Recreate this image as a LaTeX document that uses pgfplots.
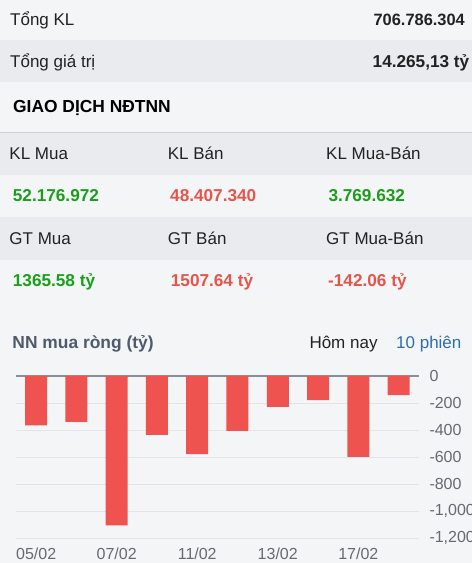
\documentclass[border=0pt]{standalone}
\usepackage{pgfplots}
\pgfplotsset{compat=1.18}
\usepackage{fontspec}
\setmainfont{Liberation Sans}
\definecolor{pagebg}{HTML}{F4F5F7}
\definecolor{bandbg}{HTML}{E9EBEE}
\definecolor{rule}{HTML}{CDD1D7}
\definecolor{txt}{HTML}{222222}
\definecolor{up}{HTML}{18A018}
\definecolor{down}{HTML}{E5554A}
\definecolor{barred}{HTML}{EF5350}
\definecolor{titlec}{HTML}{4F5A6B}
\definecolor{linkc}{HTML}{2F6DB5}
\definecolor{tickc}{HTML}{666A70}
\definecolor{gridc}{HTML}{E2E4E8}
\definecolor{zeroc}{HTML}{8A8F97}
\newcommand\fs{\fontsize{17bp}{20bp}\selectfont}
\newcommand\fb{\fontsize{17.2bp}{20bp}\selectfont\bfseries}
\newcommand\ft{\fontsize{16bp}{19bp}\selectfont}

% net foreign buying, last 10 sessions (ty dong)
\pgfplotstableread{
id  y
0   -365
1   -340
2   -1105
3   -435
4   -578
5   -405
6   -228
7   -178
8   -598
9   -142
}\netbuy

\begin{document}
\begin{tikzpicture}
\begin{scope}[x=1bp,y=-1bp]
  \fill[pagebg] (0,0) rectangle (472,563);
  \fill[bandbg] (0,40) rectangle (472,82);
  \fill[bandbg] (0,133) rectangle (472,174.5);
  \fill[bandbg] (0,217) rectangle (472,260);
  \draw[rule, line width=1bp] (0,132) -- (472,132);

  \begin{scope}[every node/.style={inner sep=0pt, text=txt, font=\fs}]
    \node[anchor=base west] at (10,25) {Tổng KL};
    \node[anchor=base east, font=\fontsize{16.4bp}{19bp}\selectfont\bfseries] at (465,25) {706.786.304};
    \node[anchor=base west] at (10,67) {Tổng giá trị};
    \node[anchor=base east, font=\fb] at (469.5,67) {14.265,13 tỷ};
    \node[anchor=base west, font=\fontsize{17.4bp}{20bp}\selectfont\bfseries, text=black] at (13,112.7) {GIAO DỊCH NĐTNN};

    \node[anchor=base west] at (9.3,159.3) {KL Mua};
    \node[anchor=base west] at (167.7,159.3) {KL Bán};
    \node[anchor=base west] at (326,159.3) {KL Mua-Bán};
    \node[anchor=base west, font=\fb, text=up] at (12.7,201.7) {52.176.972};
    \node[anchor=base west, font=\fb, text=down] at (170,201.7) {48.407.340};
    \node[anchor=base west, font=\fb, text=up] at (328.3,201.7) {3.769.632};

    \node[anchor=base west] at (9.3,244) {GT Mua};
    \node[anchor=base west] at (167.7,244) {GT Bán};
    \node[anchor=base west] at (326,244) {GT Mua-Bán};
    \node[anchor=base west, font=\fb, text=up] at (12.7,286.7) {1365.58 tỷ};
    \node[anchor=base west, font=\fb, text=down] at (170.7,286.7) {1507.64 tỷ};
    \node[anchor=base west, font=\fb, text=down] at (328,286.7) {-142.06 tỷ};

    \node[anchor=base west, font=\fontsize{17.4bp}{20bp}\selectfont\bfseries, text=titlec] at (12.3,348) {NN mua ròng (tỷ)};
    \node[anchor=base west] at (309.3,348) {Hôm nay};
    \node[anchor=base west, text=linkc] at (396,348) {10 phiên};
  \end{scope}
\end{scope}

\begin{axis}[
    at={(16bp,-538.3bp)}, anchor=south west,
    scale only axis,
    width=402.7bp, height=162.3bp,
    xmin=-0.5, xmax=9.5,
    ymin=-1200, ymax=0,
    enlargelimits=false,
    axis line style={draw=none},
    major tick length=0pt,
    xtick={0,2,4,6,8},
    xticklabels={05/02,07/02,11/02,13/02,17/02},
    ytick={-1200,-1000,-800,-600,-400,-200},
    extra y ticks={0},
    extra y tick style={grid style={color=zeroc, line width=1.3bp}},
    yticklabel pos=right,
    ymajorgrids=true,
    grid style={color=gridc, line width=1bp},
    tick label style={font=\ft, text=tickc, inner sep=0pt},
    xticklabel style={anchor=base, yshift=-21bp},
    yticklabel style={anchor=west, xshift=10.6bp},
    /pgf/number format/.cd, 1000 sep={,}, assume math mode=true,
  ]
  \addplot[ybar, bar width=22bp, bar shift=0pt, fill=barred, draw=none]
    table[x=id, y=y] {\netbuy};
\end{axis}

\pgfresetboundingbox
\useasboundingbox (0,0) rectangle (472bp,-563bp);
\end{tikzpicture}
\end{document}
